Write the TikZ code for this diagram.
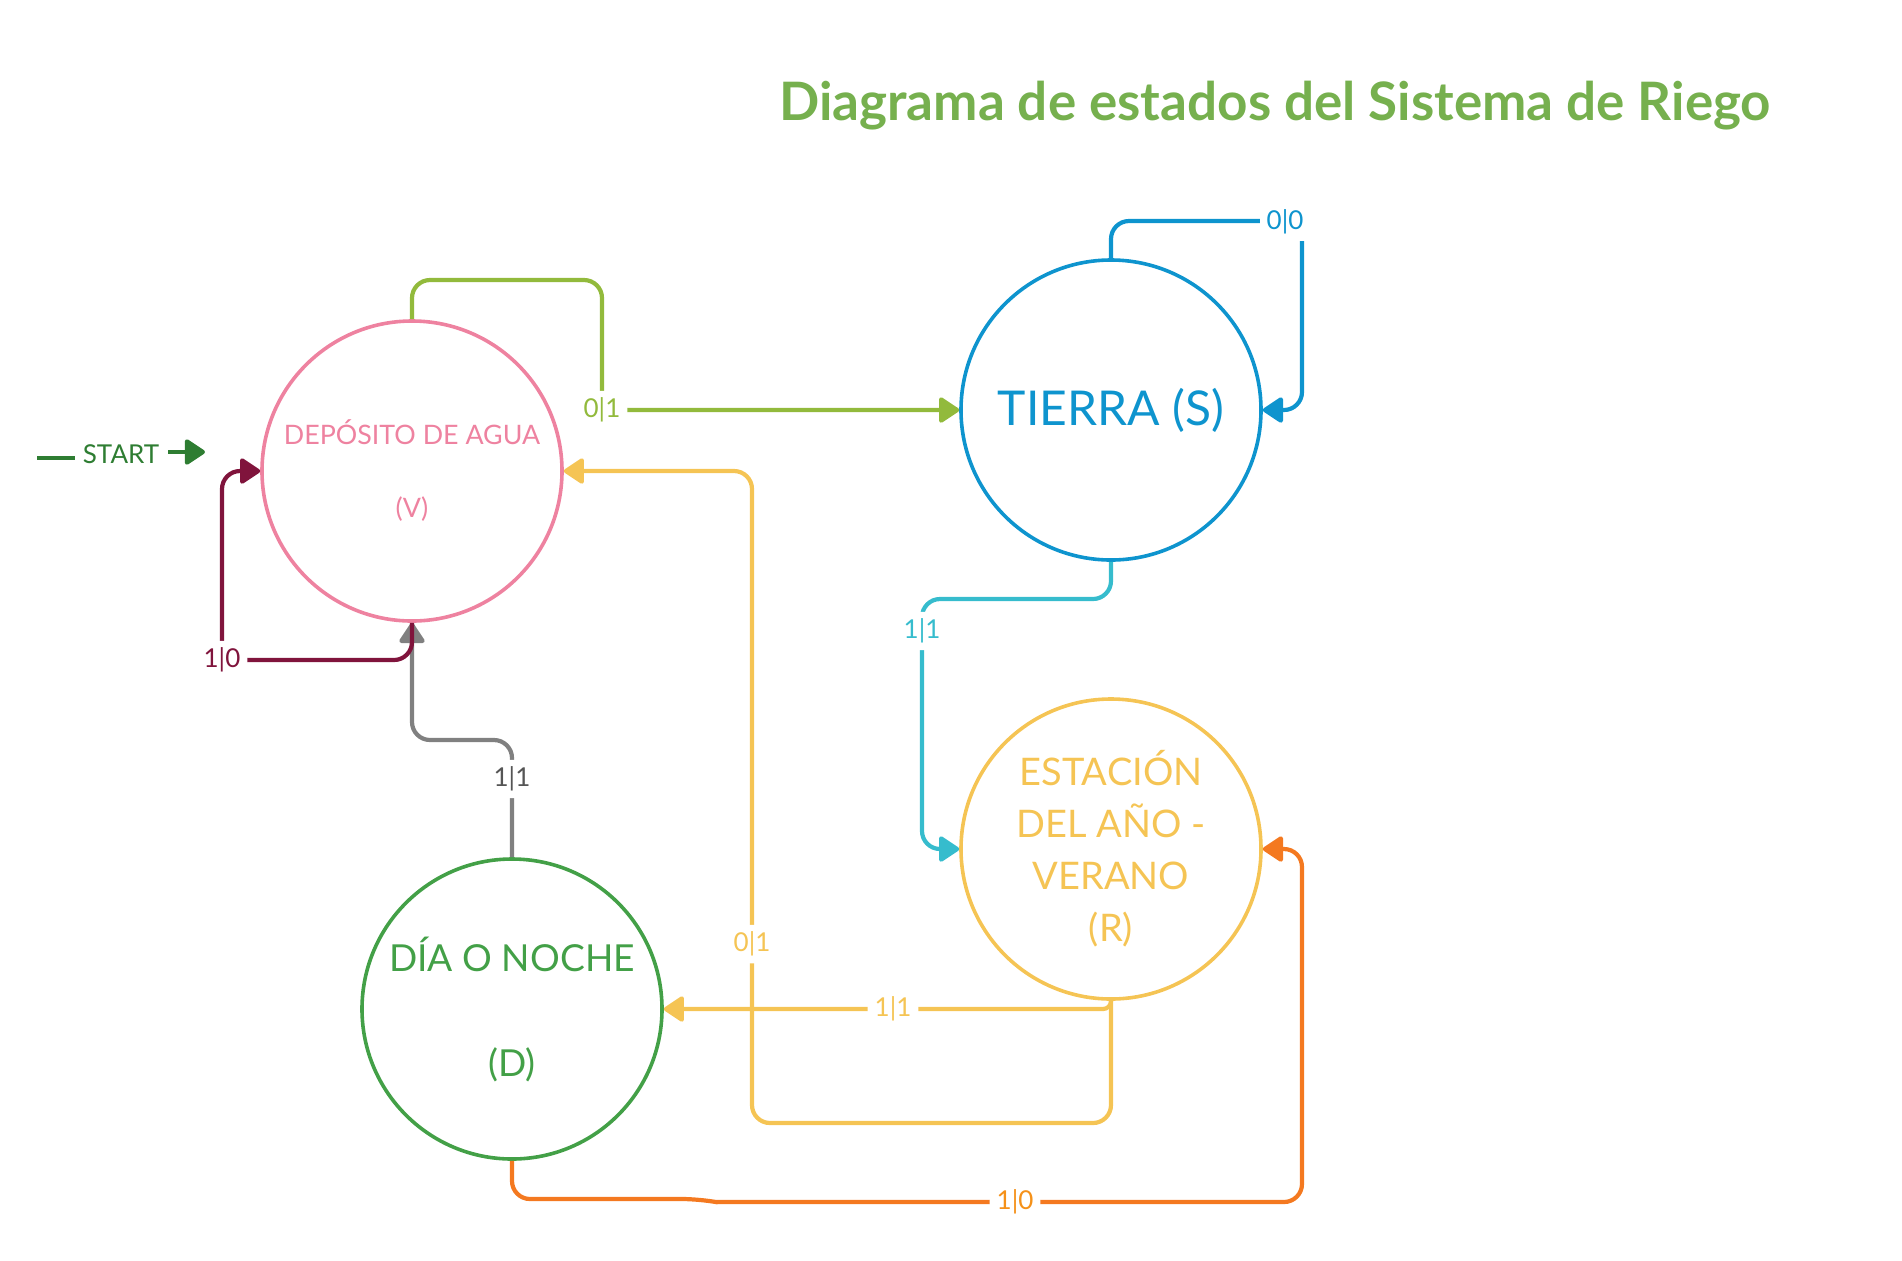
\documentclass[tikz,border=0pt]{standalone}
\usepackage{fontspec}
\setmainfont{Lato}
\usetikzlibrary{arrows.meta}
\definecolor{ctitle}{RGB}{118,176,78}
\definecolor{cpink}{RGB}{238,130,160}
\definecolor{cblue}{RGB}{14,148,206}
\definecolor{cyellow}{RGB}{245,196,84}
\definecolor{cdgreen}{RGB}{67,160,71}
\definecolor{cgreen}{RGB}{146,186,60}
\definecolor{cteal}{RGB}{54,188,205}
\definecolor{cgray}{RGB}{128,128,128}
\definecolor{cgraytext}{RGB}{85,85,85}
\definecolor{cmaroon}{RGB}{128,20,60}
\definecolor{corange}{RGB}{244,121,32}
\definecolor{clorange}{RGB}{245,145,25}
\definecolor{cstart}{RGB}{46,125,50}
\tikzset{
  state/.style={circle, draw, line width=1.8pt, minimum size=150pt, inner sep=0pt, align=center},
  conn/.style={line width=2.1pt, rounded corners=9pt},
  tip/.style={-{Triangle[length=11pt,width=14pt,round]}},
  lbl/.style={fill=white, inner sep=3.5pt, font=\fontsize{13}{15}\selectfont},
}
\begin{document}
\begin{tikzpicture}[x=0.5pt,y=-0.5pt]
\useasboundingbox (0,0) rectangle (1902,1260);

% title
\node[anchor=base, text=ctitle, font=\bfseries\fontsize{26.5}{32}\selectfont] (title) at (1275,120) {Diagrama de estados del Sistema de Riego};

% states
\node[state, draw=cpink, text=cpink, font=\fontsize{13.4}{36.5}\selectfont] (V) at (412,471) {DEPÓSITO DE AGUA\\(V)};
\node[state, draw=cblue, text=cblue, font=\fontsize{24}{28}\selectfont] (S) at (1111,410) {TIERRA (S)};
\node[state, draw=cyellow, text=cyellow, font=\fontsize{19}{26}\selectfont] (R) at (1111,849) {ESTACIÓN\\DEL AÑO -\\VERANO\\(R)};
\node[state, draw=cdgreen, text=cdgreen, font=\fontsize{18.6}{52.5}\selectfont] (D) at (512,1009) {DÍA O NOCHE\\(D)};

% start marker
\coordinate (s0) at (37,458);
\coordinate (s1) at (75,458);
\node[text=cstart, font=\fontsize{13}{15}\selectfont, inner sep=0pt] (start) at (121,454) {START};
\coordinate (s2) at (168,452);
\coordinate (s3) at (205,452);
\draw[cstart, line width=2.1pt] (s0) -- (s1);
\draw[cstart, line width=2.1pt, tip] (s2) -- (s3);

% gray D -> V
\draw[conn, cgray, tip] (D.north) -- (512,779) node[lbl, text=cgraytext]{1|1} |- (412,740) -- (V.south);

% maroon V self loop
\draw[conn, cmaroon, tip] (V.south) |- (222,660) node[lbl]{1|0} |- (V.west);

% green V -> S
\draw[conn, cgreen, tip] (V.north) |- (602,280) -- (602,410) node[lbl]{0|1} -- (S.west);

% blue S self loop
\draw[conn, cblue, tip] (S.north) |- (1302,221) coordinate (bc) |- (S.east);
\node[lbl, text=cblue] (l00) at (1285,222) {0|0};

% teal S -> R
\draw[conn, cteal, tip] (S.south) |- (922,599) -- (922,631) node[lbl]{1|1} |- (R.west);

% yellow R -> V
\draw[conn, cyellow, tip] (R.south) |- (752,1123) -- (752,944) node[lbl]{0|1} |- (V.east);

% yellow R -> D
\draw[line width=2.1pt, rounded corners=4pt, cyellow, tip] (R.south) |- (893,1009) node[lbl]{1|1} -- (D.east);

% orange D -> R
\draw[conn, corange, tip] (D.south) |- (700,1199) [sharp corners] -- (716,1202) [rounded corners=9pt] -- (1015,1202) node[lbl, text=clorange]{1|0} -- (1302,1202) |- (R.east);
\end{tikzpicture}
\end{document}
